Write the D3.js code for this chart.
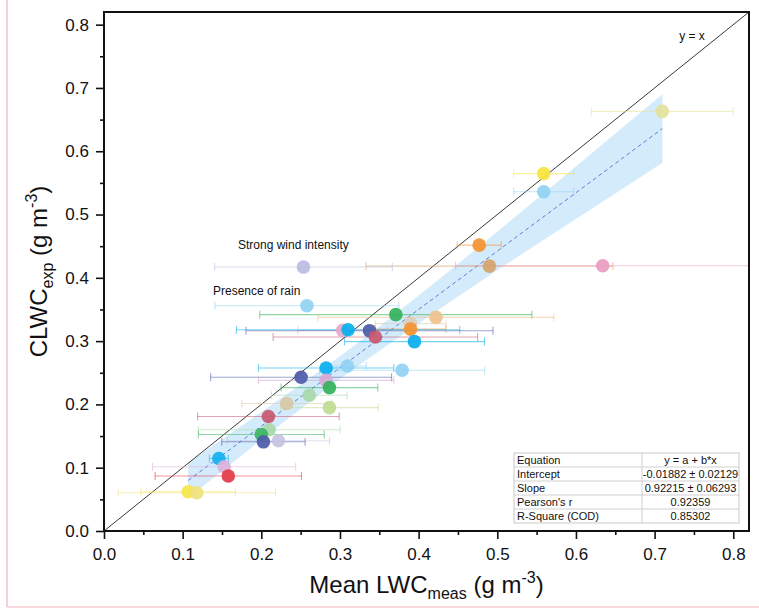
<!DOCTYPE html>
<html><head><meta charset="utf-8">
<script src="https://cdn.jsdelivr.net/npm/d3@7"></script>
<style>body{margin:0;background:#fff}svg{display:block;font-family:"Liberation Sans",Arial,sans-serif}</style>
</head><body><svg id="c" width="759" height="609"></svg>
<script>
const majorTicks = [0, 0.1, 0.2, 0.3, 0.4, 0.5, 0.6, 0.7, 0.8];
const minorTicks = [0.05, 0.15, 0.25, 0.35, 0.45, 0.55, 0.65, 0.75];
const pointX = [0.7097,0.559,0.559,0.477,0.490,0.634,0.2536,0.258,0.371,0.422,0.3897,0.3897,0.3035,0.3103,0.3375,0.345,0.3947,0.2824,0.3095,0.379,0.2506,0.2824,0.2866,0.261,0.2324,0.2866,0.209,0.210,0.200,0.2217,0.2027,0.146,0.1527,0.158,0.107,0.118];
const pointY = [0.663,0.5647,0.536,0.4516,0.4185,0.419,0.417,0.356,0.3418,0.3375,0.3276,0.319,0.317,0.318,0.3165,0.3065,0.2992,0.2576,0.2607,0.254,0.2429,0.238,0.2266,0.2145,0.2014,0.195,0.181,0.160,0.1525,0.1425,0.1409,0.1146,0.1015,0.0868,0.062,0.0605];
const errX = [0.09,0.038,0.038,0.028,0.157,0.187,0.113,0.117,0.173,0.15,0.045,0.045,0.057,0.142,0.157,0.13,0.089,0.086,0.024,0.105,0.115,0.086,0.0615,0.048,0.057,0.062,0.09,0.09,0.08,0.065,0.053,0.012,0.091,0.093,0.06,0.10];
const pointColors = ["#e3e29b","#f6e53e","#8fd1f2","#f39230","#d5a26c","#e99cc0","#b8bde2","#91d2f2","#33b25a","#f0c18c","#dccbb5","#f39230","#e6a9cb","#06aeef","#4d5ba8","#c8586f","#06aeef","#0aafef","#91d2f2","#91d2f2","#4d5ba8","#d6aad3","#33b25a","#a8d8aa","#d8c8a4","#bfdb92","#c8586f","#a8d8aa","#3cb562","#c4c4e2","#4d5ba8","#12b0ef","#dcb2da","#e23b48","#f7e64a","#efe27e"];
const fitIntercept = -0.01882;
const fitSlope = 0.92215;
const bandX = [0.107, 0.2, 0.3, 0.4, 0.5, 0.6, 0.71];
const bandLo = [0.052, 0.144, 0.240, 0.328, 0.412, 0.493, 0.582];
const bandHi = [0.108, 0.188, 0.276, 0.372, 0.473, 0.576, 0.690];
const tableLabels = ["Equation","Intercept","Slope","Pearson's r","R-Square (COD)"];
const tableValues = ["y = a + b*x","-0.01882 \u00b1 0.02129","0.92215 \u00b1 0.06293","0.92359","0.85302"];

const svg = d3.select("#c");
const L = 104, R = 749, T = 12, B = 531;
const x = d3.scaleLinear().domain([0, 0.82]).range([L, R]);
const y = d3.scaleLinear().domain([0, 0.82]).range([B, T]);

// page border
svg.append("line").attr("x1",7).attr("x2",7).attr("y1",0).attr("y2",607).attr("stroke","#f2b3bc").attr("stroke-width",1.2);
svg.append("line").attr("x1",7).attr("x2",759).attr("y1",607).attr("y2",607).attr("stroke","#f2b3bc").attr("stroke-width",1.2);

svg.append("defs").append("clipPath").attr("id","clip").append("rect").attr("x",L).attr("y",T).attr("width",R-L).attr("height",B-T);
const g = svg.append("g").attr("clip-path","url(#clip)");

// confidence band
const band = bandX.map((v,i)=>({x:v, lo:bandLo[i], hi:bandHi[i]}));
g.append("path").datum(band)
  .attr("d", d3.area().x(d=>x(d.x)).y0(d=>y(d.lo)).y1(d=>y(d.hi)).curve(d3.curveMonotoneX))
  .attr("fill","#cde7fb").attr("fill-opacity",0.85);

// y = x line
g.append("line").attr("x1",x(0)).attr("y1",y(0)).attr("x2",x(0.82)).attr("y2",y(0.82)).attr("stroke","#222").attr("stroke-width",0.9);

// fit line
const ext = d3.extent(pointX);
g.append("line").attr("x1",x(ext[0])).attr("y1",y(fitIntercept+fitSlope*ext[0]))
  .attr("x2",x(ext[1])).attr("y2",y(fitIntercept+fitSlope*ext[1]))
  .attr("stroke","#5a7fd8").attr("stroke-width",1).attr("stroke-dasharray","4,3");

const pts = pointX.map((v,i)=>({x:v,y:pointY[i],e:errX[i],c:pointColors[i]}));
// error bars
const eb = g.append("g").selectAll("g").data(pts).join("g").attr("stroke",d=>d.c).attr("stroke-opacity",0.55).attr("stroke-width",1.1);
eb.append("line").attr("x1",d=>x(d.x-d.e)).attr("x2",d=>x(d.x+d.e)).attr("y1",d=>y(d.y)).attr("y2",d=>y(d.y));
eb.append("line").attr("x1",d=>x(d.x-d.e)).attr("x2",d=>x(d.x-d.e)).attr("y1",d=>y(d.y)-4).attr("y2",d=>y(d.y)+4);
eb.append("line").attr("x1",d=>x(d.x+d.e)).attr("x2",d=>x(d.x+d.e)).attr("y1",d=>y(d.y)-4).attr("y2",d=>y(d.y)+4);
// points
g.append("g").selectAll("circle").data(pts).join("circle")
  .attr("cx",d=>x(d.x)).attr("cy",d=>y(d.y)).attr("r",6.8).attr("fill",d=>d.c).attr("fill-opacity",0.92);

// axes
const fmt = d3.format(".1f");
const xa = svg.append("g").attr("transform",`translate(0,${B})`)
  .call(d3.axisBottom(x).tickValues(majorTicks).tickFormat(fmt).tickSize(8).tickSizeOuter(0).tickPadding(9));
const xm = svg.append("g").attr("transform",`translate(0,${B})`)
  .call(d3.axisBottom(x).tickValues(minorTicks).tickFormat("").tickSize(4).tickSizeOuter(0));
const ya = svg.append("g").attr("transform",`translate(${L},0)`)
  .call(d3.axisLeft(y).tickValues(majorTicks).tickFormat(fmt).tickSize(8).tickSizeOuter(0).tickPadding(7));
const ym = svg.append("g").attr("transform",`translate(${L},0)`)
  .call(d3.axisLeft(y).tickValues(minorTicks).tickFormat("").tickSize(4).tickSizeOuter(0));
[xa,xm,ya,ym].forEach(a=>{a.select(".domain").remove(); a.selectAll("line").attr("stroke","#111").attr("stroke-width",1.6);
  a.selectAll("text").attr("font-size",17).attr("fill","#111").attr("font-family","'Liberation Sans',Arial,sans-serif");});

// frame
svg.append("rect").attr("x",L).attr("y",T).attr("width",R-L).attr("height",B-T).attr("fill","none").attr("stroke","#111").attr("stroke-width",2);

// axis titles
const xt = svg.append("text").attr("x",(L+R)/2).attr("y",593).attr("text-anchor","middle").attr("font-size",24).attr("fill","#111");
xt.append("tspan").text("Mean LWC");
xt.append("tspan").attr("font-size",16).attr("dy",6).text("meas");
xt.append("tspan").attr("dy",-6).text(" (g m");
xt.append("tspan").attr("font-size",16).attr("dy",-10).text("-3");
xt.append("tspan").attr("dy",10).text(")");

const yt = svg.append("text").attr("transform",`translate(47,${(T+B)/2}) rotate(-90)`).attr("text-anchor","middle").attr("font-size",24).attr("fill","#111");
yt.append("tspan").text("CLWC");
yt.append("tspan").attr("font-size",16).attr("dy",6).text("exp");
yt.append("tspan").attr("dy",-6).text(" (g m");
yt.append("tspan").attr("font-size",16).attr("dy",-10).text("-3");
yt.append("tspan").attr("dy",10).text(")");

// annotations
svg.append("text").attr("x",692).attr("y",40).attr("text-anchor","middle").attr("font-size",12).attr("fill","#111").text("y = x");
svg.append("text").attr("x",238).attr("y",249).attr("font-size",12).attr("fill","#111").text("Strong wind intensity");
svg.append("text").attr("x",213).attr("y",295).attr("font-size",12).attr("fill","#111").text("Presence of rain");

// stats table
const tx0 = 514, tx1 = 642, tx2 = 739, ty0 = 453, rh = 14;
const tg = svg.append("g");
tg.append("rect").attr("x",tx0).attr("y",ty0).attr("width",tx2-tx0).attr("height",rh*tableLabels.length).attr("fill","#fff").attr("stroke","#c8c8c8");
tableLabels.forEach((lab,i)=>{
  if(i>0) tg.append("line").attr("x1",tx0).attr("x2",tx2).attr("y1",ty0+i*rh).attr("y2",ty0+i*rh).attr("stroke","#d0d0d0");
  tg.append("text").attr("x",tx0+3).attr("y",ty0+i*rh+11).attr("font-size",11).attr("fill","#111").text(lab);
  tg.append("text").attr("x",(tx1+tx2)/2).attr("y",ty0+i*rh+11).attr("text-anchor","middle").attr("font-size",11).attr("fill","#111").text(tableValues[i]);
});
tg.append("line").attr("x1",tx1).attr("x2",tx1).attr("y1",ty0).attr("y2",ty0+rh*tableLabels.length).attr("stroke","#d0d0d0");
</script></body></html>
